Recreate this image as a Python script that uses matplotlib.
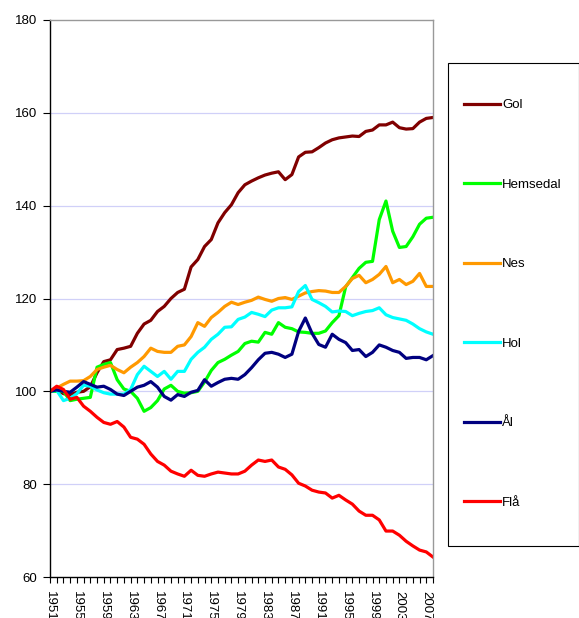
import numpy as np
import matplotlib
matplotlib.use('Agg')
import matplotlib.pyplot as plt
from matplotlib.patches import Rectangle

plt.rcParams['font.family'] = ['Liberation Sans', 'DejaVu Sans']

years = list(range(1951, 2009))

gol = [100, 100.3, 99.5, 99.3, 99.8, 100, 101, 104, 106.4, 106.8, 109, 109.3, 109.7, 112.5,
       114.5, 115.3, 117.2, 118.3, 120, 121.3, 122, 126.8, 128.4, 131.2, 132.7, 136.3, 138.5,
       140.2, 142.8, 144.5, 145.3, 146, 146.6, 147, 147.3, 145.6, 146.7, 150.5, 151.5, 151.6,
       152.5, 153.5, 154.2, 154.6, 154.8, 155, 154.9, 156, 156.3, 157.4, 157.4, 158, 156.8,
       156.5, 156.6, 158, 158.8, 159]
hemsedal = [100, 100, 100, 98, 98.3, 98.5, 98.7, 105.2, 105.8, 106.2, 102.5, 100.5, 100, 98.5,
            95.7, 96.5, 98, 100.5, 101.3, 100, 99.6, 99.7, 100, 102, 104.5, 106.2, 106.9, 107.8,
            108.6, 110.3, 110.8, 110.6, 112.7, 112.3, 114.8, 113.8, 113.5, 112.8, 112.7, 112.5,
            112.5, 113, 114.8, 116.3, 122.5, 124.5, 126.5, 127.8, 128, 137, 141, 134.5, 131,
            131.2, 133.3, 136, 137.3, 137.5]
nes = [100, 100.7, 101.5, 102.2, 102.2, 102.3, 103.2, 104.7, 105.2, 105.6, 104.7, 104, 105.2,
       106.2, 107.5, 109.3, 108.6, 108.4, 108.4, 109.7, 110, 111.8, 114.8, 114, 115.9, 117,
       118.3, 119.2, 118.7, 119.2, 119.6, 120.3, 119.8, 119.4, 120, 120.2, 119.8, 120.5, 121.2,
       121.5, 121.7, 121.6, 121.3, 121.3, 122.6, 124.3, 125, 123.4, 124.1, 125.2, 126.9, 123.4,
       124.1, 123, 123.7, 125.4, 122.6, 122.6]
hol = [100, 100.2, 98, 98.5, 99.5, 101.3, 101.1, 100.3, 99.7, 99.4, 99.4, 99.4, 100.4, 103.6,
       105.4, 104.3, 103.2, 104.3, 102.6, 104.3, 104.3, 106.9, 108.4, 109.5, 111.2, 112.3, 113.8,
       113.9, 115.5, 116, 117, 116.6, 116.1, 117.5, 118, 118, 118.2, 121.5, 122.8, 119.8, 119.1,
       118.3, 117.1, 117.3, 117.2, 116.3, 116.8, 117.2, 117.4, 118, 116.5, 115.9, 115.6, 115.3,
       114.5, 113.5, 112.8, 112.3]
aal = [100, 100.3, 100, 99.8, 100.9, 102.1, 101.5, 100.9, 101.1, 100.4, 99.4, 99.1, 100, 100.9,
       101.3, 102.1, 100.9, 98.9, 98.1, 99.3, 98.9, 99.8, 100.2, 102.5, 101.1, 101.9, 102.6,
       102.8, 102.6, 103.6, 105.1, 106.8, 108.2, 108.4, 108, 107.3, 108, 112.9, 115.8, 112.5,
       110.1, 109.5, 112.3, 111.2, 110.5, 108.8, 109, 107.5, 108.4, 110, 109.5, 108.8, 108.4,
       107.1, 107.3, 107.3, 106.8, 107.7]
flaa = [100, 101.1, 100.4, 98.3, 98.7, 96.8, 95.7, 94.4, 93.3, 92.9, 93.5, 92.3, 90.1, 89.7,
        88.6, 86.5, 84.9, 84.1, 82.8, 82.2, 81.7, 83, 81.9, 81.7, 82.2, 82.6, 82.4, 82.2, 82.2,
        82.8, 84.1, 85.2, 84.9, 85.2, 83.7, 83.2, 82, 80.2, 79.6, 78.7, 78.3, 78.1, 77, 77.6,
        76.6, 75.7, 74.2, 73.3, 73.3, 72.3, 69.9, 69.9, 69, 67.7, 66.7, 65.8, 65.4, 64.3]

names = ['Gol', 'Hemsedal', 'Nes', 'Hol', 'Ål', 'Flå']
colors = ['#800000', '#00ff00', '#ff9900', '#00ffff', '#000080', '#ff0000']
series = [gol, hemsedal, nes, hol, aal, flaa]

W, H = 579, 618
fig = plt.figure(figsize=(W / 100, H / 100), dpi=100)
ax = fig.add_axes([50 / W, 41 / H, 383 / W, 557 / H])

x = np.arange(len(years))
for vals, name, col in zip(series, names, colors):
    ax.plot(x, vals, color=col, lw=2.3, label=name, solid_joinstyle='round')

ax.set_xlim(0, len(years) - 1)
ax.set_ylim(60, 180)
ax.set_yticks(range(60, 181, 20))
for yv in range(80, 180, 20):
    ax.axhline(yv, color='#d0d0f8', lw=0.9, zorder=0)

ax.set_xticks(x, minor=True)
ax.set_xticks(x[::4])
ax.set_xticklabels([str(y) for y in years[::4]], rotation=270, ha='center', va='top')
ax.tick_params(axis='x', which='both', direction='out', length=4, width=0.8, pad=6, labelsize=9.5)
ax.tick_params(axis='y', direction='out', length=5, width=0.8, pad=4, labelsize=9.5)

ax.spines['left'].set_color('black')
ax.spines['bottom'].set_color('black')
ax.spines['top'].set_color('#999999')
ax.spines['right'].set_color('#999999')
for s in ax.spines.values():
    s.set_linewidth(1.0)

# legend box drawn separately so the entries can sit with wide spacing
fig.patches.append(Rectangle((448 / W, 1 - 546 / H), 131 / W, 483 / H,
                             transform=fig.transFigure, fill=False,
                             edgecolor='black', lw=0.8))
leg = fig.legend(loc='upper left', bbox_to_anchor=(464 / W, 1 - 99 / H),
                 frameon=False, fontsize=9.5, handlelength=2.75,
                 handletextpad=0.15, labelspacing=5.1,
                 borderpad=0, borderaxespad=0)

fig.savefig('out.png', dpi=100)
